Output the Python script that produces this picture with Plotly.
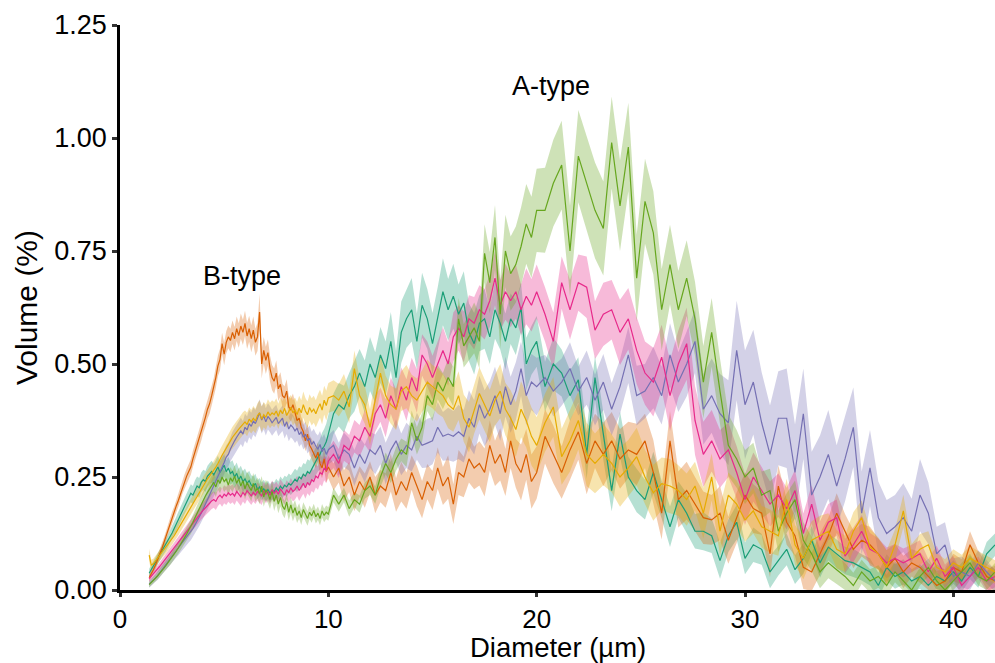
import plotly.graph_objects as go

# ---------------- data (values in units of 0.001 %) ----------------
# diameter bin centres (µm)
diam_fine = [1.4,1.5,1.6,1.7,1.8,1.9,2.0,2.1,2.2,2.3,
             2.4,2.5,2.6,2.7,2.8,2.9,3.0,3.1,3.2,3.3,
             3.4,3.5,3.6,3.7,3.8,3.9,4.0,4.1,4.2,4.3,
             4.4,4.5,4.6,4.7,4.8,4.9,5.0,5.1,5.2,5.3,
             5.4,5.5,5.6,5.7,5.8,5.9,6.0,6.1,6.2,6.3,
             6.4,6.5,6.6,6.7,6.8,6.9,7.0,7.1,7.2,7.3,
             7.4,7.5,7.6,7.7,7.8,7.9,8.0,8.1,8.2,8.3,
             8.4,8.5,8.6,8.7,8.8,8.9,9.0,9.1,9.2,9.3,
             9.4,9.5,9.6,9.7,9.8,9.9,10.0]
diam_mid = [10.25,10.5,10.75,11.0,11.25,11.5,11.75,12.0,12.25,12.5,
            12.75,13.0,13.25,13.5,13.75,14.0,14.25,14.5,14.75,15.0,
            15.25,15.5,15.75,16.0,16.25,16.5,16.75,17.0,17.25,17.5,
            17.75,18.0,18.25,18.5,18.75,19.0,19.25,19.5,19.75,20.0]
diam_coarse = [20.4,20.8,21.2,21.6,22.0,22.4,22.8,23.2,23.6,24.0,
               24.4,24.8,25.2,25.6,26.0,26.4,26.8,27.2,27.6,28.0,
               28.4,28.8,29.2,29.6,30.0,30.4,30.8,31.2,31.6,32.0,
               32.4,32.8,33.2,33.6,34.0,34.4,34.8,35.2,35.6,36.0,
               36.4,36.8,37.2,37.6,38.0,38.4,38.8,39.2,39.6,40.0,
               40.4,40.8,41.2,41.6,42.0]

teal_mean = [37,45,52,60,68,76,84,92,100,108,
             117,126,136,146,156,166,176,186,196,205,
             214,210,222,230,226,238,244,240,252,258,
             262,255,265,272,260,268,276,262,270,258,
             262,250,258,244,252,240,246,236,242,232,
             230,236,222,228,218,224,216,222,214,220,
             218,226,220,230,224,232,228,236,232,238,
             245,240,250,246,256,252,262,258,268,276,
             285,294,300,312,318,328,345,
             390,410,400,430,450,480,450,500,470,520,
             490,550,470,570,600,620,550,630,600,545,
             600,660,620,650,610,635,570,545,590,600,
             560,620,590,550,600,580,625,500,530,550,
             450,500,480,430,465,300,470,340,220,345,
             250,220,200,260,200,140,200,170,130,130,
             120,65,120,150,70,100,90,40,65,90,
             45,70,110,60,95,80,65,60,50,40,
             10,50,30,40,20,30,10,30,20,40,
             20,50,30,80,100]
teal_sd = [10,10,11,11,12,12,13,13,14,14,
           15,15,16,16,17,17,18,18,19,19,
           20,20,21,21,22,22,22,23,23,23,
           24,24,24,25,25,25,25,25,25,25,
           25,24,24,24,23,23,23,22,22,22,
           21,21,21,20,20,20,20,20,20,20,
           20,20,20,21,21,21,22,22,22,23,
           23,24,24,25,25,26,27,28,29,30,
           31,32,34,36,38,40,42,
           45,48,52,50,55,53,58,60,56,62,
           60,65,58,68,64,70,62,72,66,68,
           70,74,68,72,66,70,64,68,62,66,
           60,64,58,62,56,60,55,58,54,56,
           55,58,52,56,50,54,48,52,46,50,
           45,48,44,46,42,45,40,44,38,42,
           38,40,36,38,35,38,34,36,33,35,
           32,34,31,33,30,32,30,31,29,30,
           28,29,27,28,26,27,26,27,25,26,
           25,26,25,26,25]

orange_mean = [27,35,45,55,66,78,90,104,118,133,
               148,160,172,186,198,212,228,240,252,262,
               272,290,305,318,333,350,368,382,400,412,
               430,447,470,496,510,545,522,548,560,552,
               570,556,578,563,584,570,590,562,578,556,
               575,548,560,615,500,530,508,525,490,470,
               462,480,445,455,430,425,440,405,398,410,
               392,375,380,360,350,330,345,320,312,300,
               292,305,280,270,290,262,272,
               250,270,230,250,210,240,220,250,210,230,
               220,260,210,240,220,260,230,200,240,220,
               270,230,250,190,260,250,290,270,280,260,
               320,280,300,260,330,280,260,300,240,260,
               340,300,260,310,350,280,330,300,330,290,
               310,300,330,260,170,330,200,220,190,160,
               155,170,110,160,210,180,170,80,230,150,
               120,50,40,80,120,170,130,90,110,100,
               80,50,70,40,60,50,30,10,20,50,
               40,100,60,30,20]
orange_sd = [8,8,9,9,10,10,10,11,11,12,
             12,13,13,14,14,15,15,16,16,17,
             17,18,18,19,19,20,20,21,21,22,
             22,22,23,23,24,24,25,25,25,26,
             26,26,27,27,28,28,28,29,29,30,
             30,30,31,40,32,30,30,29,29,28,
             28,28,27,27,26,26,26,25,25,25,
             24,24,24,23,23,23,22,22,22,22,
             22,22,23,23,24,24,25,
             30,32,35,33,36,34,38,35,40,36,
             38,42,37,44,40,38,45,41,39,43,
             46,42,48,44,50,45,52,47,49,53,
             55,50,58,52,60,54,62,56,60,58,
             60,64,58,66,62,68,60,70,64,66,
             62,68,60,72,58,66,62,64,60,58,
             55,60,52,56,50,54,48,52,46,50,
             45,48,42,46,40,44,38,42,36,40,
             34,38,32,36,30,34,30,32,28,30,
             28,30,26,28,26]

purple_mean = [13,17,22,27,32,38,44,50,56,62,
               68,74,80,86,92,98,104,110,116,122,
               128,136,144,152,161,170,180,190,200,210,
               220,230,240,250,260,270,282,294,300,312,
               322,330,338,344,352,345,360,354,368,362,
               374,368,380,392,376,385,372,384,378,370,
               376,382,368,374,380,362,372,356,365,360,
               352,358,344,350,338,345,330,336,322,328,
               318,312,322,306,314,300,310,
               320,290,310,300,270,300,280,310,300,320,
               280,310,330,300,320,310,340,320,325,330,
               360,340,345,340,350,340,380,360,410,380,
               400,430,390,450,410,440,490,430,460,450,
               470,440,460,490,440,470,420,460,400,450,
               520,430,440,470,430,520,460,500,550,400,
               430,390,370,530,410,460,370,300,380,380,
               260,390,210,250,300,230,290,360,170,270,
               160,125,140,160,130,210,170,80,100,30,
               40,30,60,40,20]
purple_sd = [8,8,9,9,10,10,11,11,12,12,
             13,13,14,14,15,15,16,16,17,17,
             18,18,19,19,20,20,21,21,22,22,
             23,23,24,24,25,25,26,26,27,27,
             28,28,28,29,29,29,30,30,30,30,
             30,30,30,30,30,30,30,29,29,29,
             29,28,28,28,28,27,27,27,27,27,
             27,27,27,27,27,28,28,28,28,29,
             29,30,30,31,31,32,32,
             34,36,38,36,40,38,42,40,44,42,
             46,44,48,46,50,48,52,50,54,52,
             56,54,58,56,60,58,62,60,64,62,
             62,64,60,66,62,64,60,66,62,64,
             50,56,52,58,54,60,56,62,58,60,
             62,66,60,68,64,70,66,72,70,78,
             82,88,94,110,120,116,112,108,104,110,
             106,100,96,92,98,90,94,88,92,84,
             80,74,70,76,72,80,68,60,50,40,
             34,30,28,26,24]

pink_mean = [25,30,35,40,46,52,58,64,70,76,
             82,88,94,100,106,112,118,124,130,136,
             142,148,155,160,166,172,177,182,188,192,
             197,200,196,205,210,204,212,208,215,210,
             214,208,218,212,206,216,210,220,214,208,
             216,210,218,214,208,220,212,218,210,222,
             214,220,212,224,216,210,222,215,226,218,
             222,230,220,228,236,226,238,232,244,240,
             252,248,260,256,270,264,285,
             300,280,320,310,340,330,360,340,390,410,
             380,430,400,450,420,470,440,520,500,470,
             500,530,500,560,580,560,600,590,620,610,
             640,690,630,660,640,660,620,650,630,660,
             610,550,680,620,680,670,575,610,620,570,
             600,530,480,460,515,430,500,545,375,300,
             330,290,310,260,200,250,220,190,210,180,
             220,125,190,110,150,160,75,100,130,90,
             80,60,70,60,70,80,40,70,30,50,
             10,30,50,20,30]
pink_sd = [7,7,8,8,8,9,9,9,10,10,
           10,11,11,12,12,12,13,13,14,14,
           14,15,15,16,16,16,17,17,18,18,
           18,18,19,19,19,20,20,20,20,20,
           20,20,20,20,20,20,20,20,20,20,
           20,20,20,20,20,20,20,20,20,20,
           20,20,20,21,21,21,21,22,22,22,
           22,22,23,23,23,24,24,24,25,25,
           25,26,26,27,27,28,28,
           30,32,34,33,36,35,38,36,40,38,
           42,40,44,42,46,44,48,46,50,48,
           50,52,48,54,50,56,52,58,54,56,
           58,60,56,62,58,60,56,62,58,60,
           60,64,58,66,62,68,64,70,66,72,
           68,74,70,76,72,78,74,80,76,72,
           68,64,60,58,56,54,52,50,48,46,
           46,44,42,42,40,40,38,38,36,36,
           34,34,32,32,30,30,28,28,26,26,
           25,25,24,24,24]

green_mean = [12,16,21,26,31,36,42,48,54,60,
              66,72,79,86,93,100,108,116,124,132,
              140,150,160,170,180,190,200,208,216,224,
              232,238,228,244,236,250,240,246,232,248,
              240,252,236,246,230,242,224,238,228,220,
              236,218,226,212,230,206,222,214,200,218,
              196,210,190,205,186,178,195,172,188,170,
              182,165,175,160,178,168,158,172,164,176,
              162,170,158,175,165,172,168,
              210,190,210,180,200,190,220,230,210,250,
              280,260,290,310,300,370,330,360,430,410,
              460,440,470,450,600,540,560,580,550,745,
              680,780,610,750,700,720,760,810,780,840,
              840,900,940,750,960,900,840,800,990,850,
              980,690,860,790,620,720,620,690,600,460,
              570,440,320,290,250,270,210,220,130,170,
              200,110,80,40,60,45,30,10,40,20,
              30,10,40,20,0,30,50,20,0,20,
              40,60,30,20,40]
green_sd = [6,6,7,7,8,8,9,9,10,10,
            11,11,12,12,13,13,14,14,15,15,
            16,16,17,17,18,18,19,19,20,20,
            21,21,22,22,22,23,23,23,23,24,
            24,24,24,24,24,24,24,24,24,24,
            23,23,23,23,22,22,22,22,21,21,
            21,20,20,20,19,19,19,18,18,18,
            17,17,17,16,16,16,16,15,15,15,
            15,15,15,15,15,15,15,
            16,17,16,18,17,19,18,20,19,22,
            24,23,26,25,28,27,30,32,34,36,
            38,40,42,44,46,48,52,56,60,64,
            68,72,76,80,82,84,86,88,90,92,
            94,96,98,100,102,104,106,104,102,100,
            98,96,94,92,90,88,86,84,82,80,
            76,72,68,64,60,56,52,48,46,44,
            42,40,38,36,34,32,30,28,27,26,
            25,24,23,22,21,20,20,20,20,20,
            20,20,20,20,20]

yellow_mean = [77,55,58,64,70,76,82,88,94,100,
               106,113,120,128,136,144,152,160,168,176,
               184,192,200,208,216,224,232,240,246,252,
               258,265,272,280,290,298,306,315,322,330,
               338,345,350,356,362,368,372,366,378,372,
               380,374,386,392,378,388,382,394,386,392,
               388,396,384,398,390,402,386,395,404,392,
               398,388,402,392,410,396,388,404,394,400,
               390,402,412,398,420,408,425,
               430,420,440,405,490,430,410,360,420,480,
               430,410,400,440,450,430,420,440,460,450,
               440,430,410,400,430,380,360,400,435,410,
               385,420,440,400,380,355,400,375,340,320,
               370,405,295,330,375,300,280,300,280,250,
               270,295,250,215,235,230,220,200,230,170,
               250,130,210,190,155,175,140,130,120,200,
               100,70,110,120,130,90,80,130,160,95,
               80,50,100,175,70,90,100,50,40,60,
               50,70,60,50,40]
yellow_sd = [14,12,11,11,11,12,12,12,13,13,
             13,14,14,14,15,15,15,16,16,16,
             17,17,17,18,18,18,19,19,19,20,
             20,20,21,21,21,22,22,22,23,23,
             23,24,24,24,25,25,25,26,26,26,
             27,27,27,28,28,28,28,28,28,28,
             28,28,28,28,28,28,28,28,28,28,
             28,28,28,28,29,29,29,29,30,30,
             30,31,31,32,32,33,33,
             34,36,38,36,40,38,42,40,44,42,
             44,42,46,44,48,46,48,46,50,48,
             50,48,52,50,54,52,56,54,58,56,
             58,56,60,58,62,60,62,60,64,62,
             64,66,62,68,64,70,66,68,64,66,
             62,64,60,62,58,60,56,58,54,56,
             52,54,50,52,48,50,46,48,44,46,
             44,46,42,44,40,42,40,42,38,40,
             36,38,34,36,32,34,30,32,28,30,
             28,28,26,26,26]

x_ticks = [0, 10, 20, 30, 40]
y_ticks = [0, 0.25, 0.5, 0.75, 1.0, 1.25]
labels = [("B-type", 5.84, 0.695), ("A-type", 20.7, 1.115)]

# ---------------- figure ----------------
diam = diam_fine + diam_mid + diam_coarse
series = [
    ("teal", (27, 158, 119), teal_mean, teal_sd),
    ("orange", (217, 95, 2), orange_mean, orange_sd),
    ("purple", (117, 112, 179), purple_mean, purple_sd),
    ("pink", (231, 41, 138), pink_mean, pink_sd),
    ("green", (102, 166, 30), green_mean, green_sd),
    ("yellow", (230, 171, 2), yellow_mean, yellow_sd),
]
for name, _, m, s in series:
    assert len(m) == len(diam), (name, "mean", len(m), len(diam))
    assert len(s) == len(diam), (name, "sd", len(s), len(diam))

FONT = "Liberation Sans, Arial, Helvetica, sans-serif"
fig = go.Figure()
for name, (r, g, b), m, s in series:
    mean = [v / 1000 for v in m]
    sd = [v / 1000 for v in s]
    upper = [a + e for a, e in zip(mean, sd)]
    lower = [a - e for a, e in zip(mean, sd)]
    fig.add_trace(go.Scatter(
        x=diam + diam[::-1], y=upper + lower[::-1],
        fill="toself", fillcolor=f"rgba({r},{g},{b},0.32)",
        line=dict(width=0), mode="lines", hoverinfo="skip",
        showlegend=False, name=name + " band"))
for name, (r, g, b), m, s in series:
    mean = [v / 1000 for v in m]
    fig.add_trace(go.Scatter(
        x=diam, y=mean, mode="lines",
        line=dict(color=f"rgb({r},{g},{b})", width=1.2),
        showlegend=False, name=name))

for text, xx, yy in labels:
    fig.add_annotation(x=xx, y=yy, text=text, showarrow=False,
                       font=dict(family=FONT, size=27, color="black"),
                       xanchor="center", yanchor="middle")

# x-axis title placed as a paper annotation below the tick labels
fig.add_annotation(x=0.5, y=0, xref="paper", yref="paper",
                   text="Diameter (µm)", showarrow=False, borderpad=0,
                   xanchor="center", yanchor="top", yshift=-41,
                   font=dict(family=FONT, size=27.5, color="black"))

fig.update_layout(
    width=995, height=663,
    margin=dict(l=120, r=0, t=25, b=73),
    paper_bgcolor="white", plot_bgcolor="white",
    font=dict(family=FONT, color="black"),
    showlegend=False,
)
fig.update_xaxes(
    range=[0, 42], tickvals=x_ticks, ticktext=[str(v) for v in x_ticks],
    showline=True, linecolor="black", linewidth=2.5,
    ticks="outside", ticklen=4, tickwidth=2.5, tickcolor="#333333",
    tickfont=dict(size=26, family=FONT, color="black"),
    showgrid=False, zeroline=False,
)
fig.update_yaxes(
    range=[0, 1.25], tickvals=y_ticks, ticktext=[f"{v:.2f}" for v in y_ticks],
    showline=True, linecolor="black", linewidth=2.5,
    ticks="outside", ticklen=5, tickwidth=2.5, tickcolor="#333333",
    tickfont=dict(size=27, family=FONT, color="black"),
    showgrid=False, zeroline=False,
    title=dict(text="Volume (%)", font=dict(size=30, family=FONT, color="black"), standoff=8),
)

fig.write_html("out.html")
